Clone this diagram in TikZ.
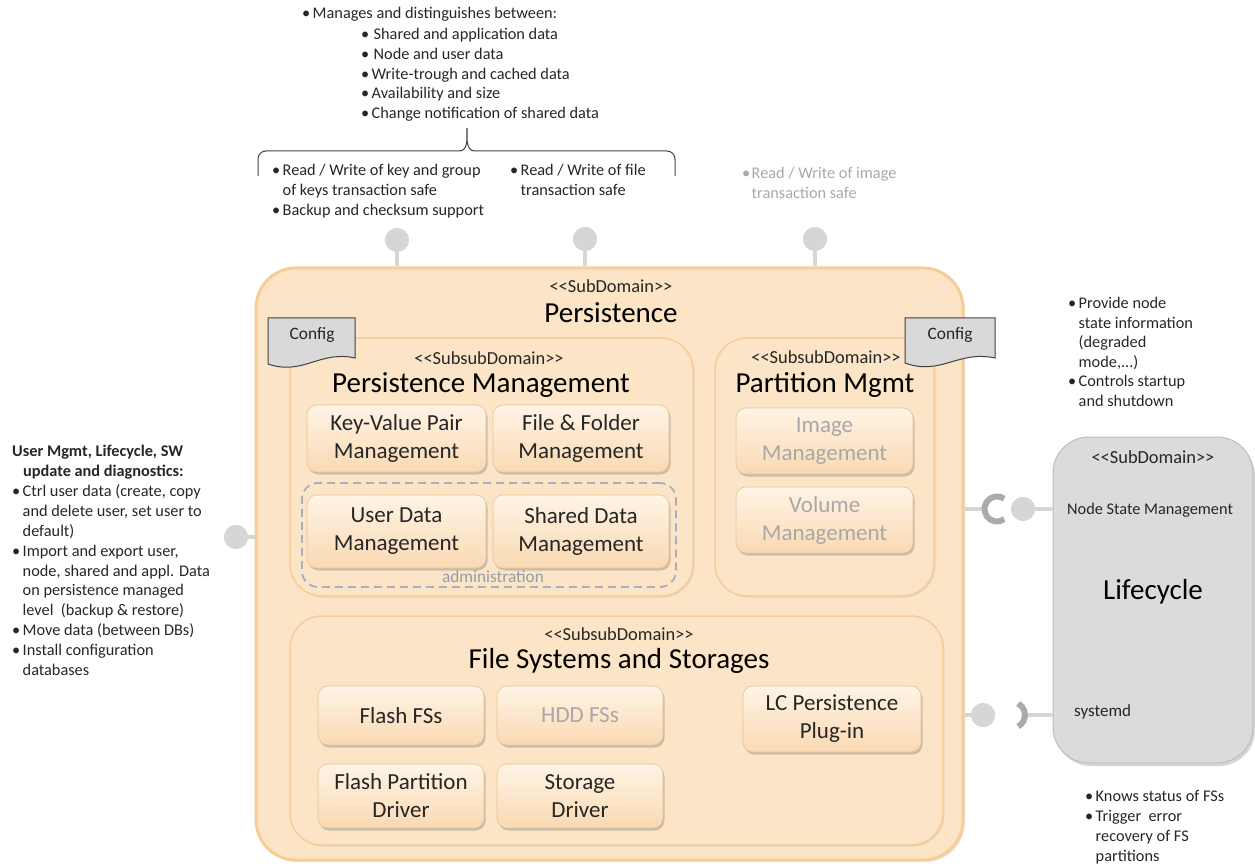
\documentclass[tikz,border=0pt]{standalone}
\usepackage{fontspec}
\setmainfont{Carlito}
\usetikzlibrary{shadows}
\definecolor{peach}{HTML}{FCE4C6}
\definecolor{peachB}{HTML}{F6CD97}
\definecolor{itemTop}{HTML}{FFF4E6}
\definecolor{itemBot}{HTML}{FAD9B2}
\definecolor{itemB}{HTML}{E8C393}
\definecolor{lol}{HTML}{D6D6D6}
\definecolor{txt}{HTML}{262626}
\definecolor{dim}{HTML}{A8A8A8}
\definecolor{adm}{HTML}{A5AFBE}
\definecolor{lcfill}{HTML}{DBDBDB}
\definecolor{lcdraw}{HTML}{BDBDBD}
\definecolor{cfgfill}{HTML}{D9D9D9}
\newcommand\fs[2]{\fontsize{#1}{#2}\selectfont}
\newcommand\bul{\makebox[10.5pt][l]{•}}
\newcommand\stl{<\kern0pt<}
\newcommand\str{>\kern0pt>}
\begin{document}
\begin{tikzpicture}[x=1pt,y=-1pt,
  outerbox/.style={draw=peachB, line width=3pt, fill=peach, rounded corners=40pt, inner sep=0pt,
    drop shadow={shadow xshift=2pt, shadow yshift=-2pt, fill=black!30, opacity=0.35}},
  subbox/.style={draw=peachB, line width=1.5pt, fill=peach, rounded corners=32pt, inner sep=0pt,
    drop shadow={shadow xshift=1.5pt, shadow yshift=-1.5pt, fill=black!30, opacity=0.3}},
  itembox/.style={draw=itemB, line width=0.6pt, rounded corners=10pt, top color=itemTop, bottom color=itemBot,
    drop shadow={shadow xshift=1.5pt, shadow yshift=-2.5pt, fill=black!45, opacity=0.45},
    align=center, font=\fs{23}{28}, text=txt, inner sep=0pt},
  dimitem/.style={itembox, text=dim},
  admbox/.style={draw=adm, line width=1.8pt, dash pattern=on 8pt off 5pt, rounded corners=16pt, inner sep=0pt},
  lcbox/.style={draw=lcdraw, line width=1pt, fill=lcfill, rounded corners=36pt, inner sep=0pt,
    drop shadow={shadow xshift=2pt, shadow yshift=-3pt, fill=black!40, opacity=0.4}},
  stereo/.style={font=\fs{18.4}{22}, text=txt, inner sep=0pt},
  ttl/.style={font=\fs{29}{34}, text=black, inner sep=0pt},
  body/.style={font=\fs{16.3}{19.8}, text=txt, align=left, inner sep=0pt, anchor=north west},
  lolli/.style={circle, fill=lol, minimum size=24pt, inner sep=0pt},
  stem/.style={draw=lol, line width=4pt},
  sock/.style={draw=lol!80!black, line width=6pt},
  cfgtab/.style={draw=black!75, line width=1pt, fill=cfgfill},
  cfgtxt/.style={font=\fs{17.4}{20}, text=txt, inner sep=0pt}
]
\useasboundingbox (0,0) rectangle (1255,866);

% ---------- lollipops on top and left (behind outer box)
\node[lolli] (l1) at (397,240) {};
\node[lolli] (l2) at (585,239) {};
\node[lolli] (l3) at (815,239) {};
\node[lolli] (l4) at (236,537) {};

% ---------- outer box
\node[outerbox, minimum width=707pt, minimum height=592pt] (outer) at (609.5,564) {};
\draw[stem] (l1) -- (l1 |- outer.north);
\draw[stem] (l2) -- (l2 |- outer.north);
\draw[stem] (l3) -- (l3 |- outer.north);
\draw[stem] (l4) -- (l4 -| outer.west);
\node[lolli] at (l1) {};
\node[lolli] at (l2) {};
\node[lolli] at (l3) {};
\node[lolli] at (l4) {};

\node[stereo] (psd) at (611,286) {\stl SubDomain\str};
\node[ttl] (pt) at (611,313) {Persistence};

% ---------- Persistence Management
\node[subbox, minimum width=403pt, minimum height=258pt] (pm) at (491.5,467) {};
\node[stereo] (pmsd) at (489,358) {\stl SubsubDomain\str};
\node[ttl] (pmt) at (481,385) {Persistence Management};
\node[itembox, minimum width=179pt, minimum height=67pt] (kv) at (396.5,438.5) {Key-Value Pair\\Management};
\node[itembox, minimum width=176pt, minimum height=67pt] (ff) at (581,438.5) {File \& Folder\\Management};
\node[admbox, minimum width=374pt, minimum height=104pt] (adm) at (489,535) {};
\node[itembox, minimum width=179pt, minimum height=73pt] (ud) at (396.5,531.5) {User Data\\Management};
\node[itembox, minimum width=176pt, minimum height=73pt] (sd) at (581,531.5) {Shared Data\\Management};
\node[font=\fs{17.2}{20}, text=adm!90!black, inner sep=0pt] (admt) at (493,577) {administration};

% ---------- Partition Mgmt
\node[subbox, minimum width=219pt, minimum height=258pt] (part) at (824.5,467) {};
\node[stereo] (partsd) at (826,357) {\stl SubsubDomain\str};
\node[ttl] (partt) at (825,385) {Partition Mgmt};
\node[dimitem, minimum width=177pt, minimum height=66pt] (img) at (824.5,441) {Image\\Management};
\node[dimitem, minimum width=177pt, minimum height=66pt] (vol) at (824.5,520) {Volume\\Management};

% ---------- File Systems and Storages
\node[subbox, minimum width=653pt, minimum height=229pt] (fs) at (616.5,730.5) {};
\node[stereo] (fssd) at (619,634) {\stl SubsubDomain\str};
\node[ttl] (fst) at (619,661) {File Systems and Storages};
\node[itembox, minimum width=166pt, minimum height=59pt] (flash) at (401,715.5) {Flash FSs};
\node[dimitem, minimum width=166pt, minimum height=59pt] (hdd) at (580,715.5) {HDD FSs};
\node[itembox, minimum width=178pt, minimum height=66pt] (lcp) at (832,719) {LC Persistence\\Plug-in};
\node[itembox, minimum width=166pt, minimum height=64pt] (fpd) at (401,796) {Flash Partition\\Driver};
\node[itembox, minimum width=166pt, minimum height=64pt] (sdr) at (580,796) {Storage\\Driver};

% ---------- Config tabs
\draw[cfgtab] (268,318) -- (355,318) -- (355,358) .. controls (320,350) and (303,376) .. (268,364) -- cycle;
\node[cfgtxt] (cfg1) at (312,335) {Config};
\draw[cfgtab] (905,318) -- (995,318) -- (995,358) .. controls (958,350) and (941,376) .. (905,363) -- cycle;
\node[cfgtxt] (cfg2) at (950,335) {Config};

% ---------- Lifecycle
\node[lcbox, minimum width=200pt, minimum height=326pt] (lc) at (1153,600) {};
\node[stereo] (lcsd) at (1153,457) {\stl SubDomain\str};
\node[font=\fs{16.3}{19}, text=txt, anchor=west, inner sep=0pt] (nsm) at (1067,510) {Node State Management};
\node[ttl] (lct) at (1153,592) {Lifecycle};
\node[font=\fs{17}{19}, text=txt, anchor=west, inner sep=0pt] (sysd) at (1074,712) {systemd};

% upper interface: socket on Persistence, lollipop on Lifecycle
\coordinate (sc1) at (997,509);
\node[lolli] (ln) at (1023,509) {};
\draw[stem] (sc1 -| outer.east) -- ([xshift=-12.5pt]sc1);
\draw[sock] ([shift={(55:12.5)}]sc1) arc[start angle=55, end angle=305, radius=12.5];
\draw[stem] (ln) -- (ln -| lc.west);
\node[lolli] at (ln) {};

% lower interface: lollipop on Persistence, socket on Lifecycle
\node[lolli] (ls) at (983,715) {};
\coordinate (sc2) at (1012,715);
\draw[stem] (ls) -- (ls -| outer.east);
\node[lolli] at (ls) {};
\draw[stem] ([xshift=13pt]sc2) -- (sc2 -| lc.west);
\draw[sock] ([shift={(-62:13)}]sc2) arc[start angle=-62, end angle=62, radius=13];

% ---------- brace
\coordinate (bl) at (258,176);
\coordinate (br) at (675,176);
\coordinate (bt) at (467,128);
\draw[black!75, line width=1pt] (bl) -- (258,159) to[out=90,in=180] (266,151) -- (459,151)
  to[out=0,in=-90] (bt) to[out=-90,in=180] (475,151) -- (667,151) to[out=0,in=90] (br |- 0,159) -- (br);

% ---------- text blocks
\node[body] (ta) at (302,7) {\bul Manages and distinguishes between:};
\node[body, font=\fs{16.3}{19.75}] (tb) at (361,28) {\bul\hspace{2pt}Shared and application data\\
\bul\hspace{2pt}Node and user data\\
\bul Write-trough and cached data\\
\bul Availability and size\\
\bul Change notification of shared data};
\node[body, font=\fs{16.3}{20}] (tc) at (272,164) {\bul Read / Write of key and group\\
\hspace*{10.5pt}of keys transaction safe\\
\bul Backup and checksum support};
\node[body, font=\fs{16.3}{20}] (td) at (510,164) {\bul Read / Write of file\\
\hspace*{10.5pt}transaction safe};
\node[body, font=\fs{16.3}{19.5}, text=dim] (te) at (742,167) {\makebox[9.5pt][l]{•}Read / Write of image\\
\hspace*{9.5pt}transaction safe};
\node[body, font=\fs{16.3}{19.9}] (tf) at (12,445) {\textbf{User Mgmt, Lifecycle, SW}\\
\hspace*{11pt}\textbf{update and diagnostics:}\\
\bul Ctrl user data (create, copy\\
\hspace*{10.5pt}and delete user, set user to\\
\hspace*{10.5pt}default)\\
\bul Import and export user,\\
\hspace*{10.5pt}node, shared and appl. Data\\
\hspace*{10.5pt}on persistence managed\\
\hspace*{10.5pt}level \ (backup \& restore)\\
\bul Move data (between DBs)\\
\bul Install configuration\\
\hspace*{10.5pt}databases};
\node[body, font=\fs{16.3}{19.6}] (tg) at (1068,297) {\bul Provide node\\
\hspace*{10.5pt}state information\\
\hspace*{10.5pt}(degraded\\
\hspace*{10.5pt}mode,...)\\
\bul Controls startup\\
\hspace*{10.5pt}and shutdown};
\node[body, font=\fs{16.3}{20}] (th) at (1085,790) {\bul Knows status of FSs\\
\bul Trigger \ error\\
\hspace*{10.5pt}recovery of FS\\
\hspace*{10.5pt}partitions};
\end{tikzpicture}
\end{document}
